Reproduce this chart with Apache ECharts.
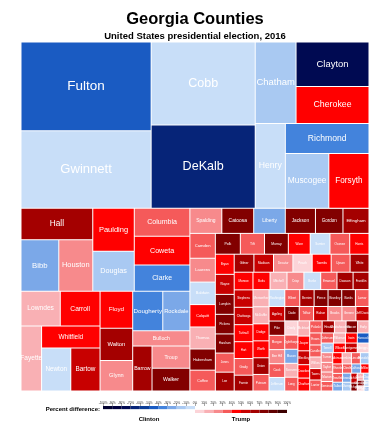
<!DOCTYPE html>
<html><head><meta charset="utf-8">
<script src="https://cdn.jsdelivr.net/npm/echarts@6/dist/echarts.min.js"></script>
<style>html,body{margin:0;padding:0;background:#fff}#c{width:390px;height:430px}</style>
</head><body><div id="c"></div>
<script>
// ---- data: 2010 population (cell size) and 2016 percent difference (Trump - Clinton) ----
const counties = ['Appling','Atkinson','Bacon','Baker','Baldwin','Banks','Barrow','Bartow','Ben Hill','Berrien',
'Bibb','Bleckley','Brantley','Brooks','Bryan','Bulloch','Burke','Butts','Calhoun','Camden',
'Candler','Carroll','Catoosa','Charlton','Chatham','Chattahoochee','Chattooga','Cherokee','Clarke','Clay',
'Clayton','Clinch','Cobb','Coffee','Colquitt','Columbia','Cook','Coweta','Crawford','Crisp',
'Dade','Dawson','Decatur','DeKalb','Dodge','Dooly','Dougherty','Douglas','Early','Echols',
'Effingham','Elbert','Emanuel','Evans','Fannin','Fayette','Floyd','Forsyth','Franklin','Fulton',
'Gilmer','Glascock','Glynn','Gordon','Grady','Greene','Gwinnett','Habersham','Hall','Hancock',
'Haralson','Harris','Hart','Heard','Henry','Houston','Irwin','Jackson','Jasper','Jeff Davis',
'Jefferson','Jenkins','Johnson','Jones','Lamar','Lanier','Laurens','Lee','Liberty','Lincoln',
'Long','Lowndes','Lumpkin','Macon','Madison','Marion','McDuffie','McIntosh','Meriwether','Miller',
'Mitchell','Monroe','Montgomery','Morgan','Murray','Muscogee','Newton','Oconee','Oglethorpe','Paulding',
'Peach','Pickens','Pierce','Pike','Polk','Pulaski','Putnam','Quitman','Rabun','Randolph',
'Richmond','Rockdale','Schley','Screven','Seminole','Spalding','Stephens','Stewart','Sumter','Talbot',
'Taliaferro','Tattnall','Taylor','Telfair','Terrell','Thomas','Tift','Toombs','Towns','Treutlen',
'Troup','Turner','Twiggs','Union','Upson','Walker','Walton','Ware','Warren','Washington',
'Wayne','Webster','Wheeler','White','Whitfield','Wilcox','Wilkes','Wilkinson','Worth'];
const population = [18236,8375,11096,3451,45720,18395,69367,100157,17634,19286,
155547,13063,18411,16243,30233,70217,23316,23655,6694,50513,
10998,110527,63942,12171,265128,11267,26015,214346,116714,3183,
259424,6798,688078,42356,45498,124053,17212,127317,12630,23439,
16633,22330,27842,691893,21796,14918,94565,132403,11008,4034,
52250,20166,22598,11000,23682,106567,96317,175511,22084,920581,
28292,3082,79626,55186,25011,15994,805321,43041,179684,9429,
28780,32024,25213,11834,203922,139900,9538,60485,13900,15068,
16930,8340,9980,28669,18317,10078,48434,28298,63453,7996,
14464,109233,29966,14740,28120,8742,21875,14333,21992,6125,
23498,26424,9123,17868,39628,189885,99958,32808,14899,142324,
27695,29431,18758,17869,41475,12010,21218,2513,16276,7719,
200549,85215,5010,14593,8729,64073,26175,6058,32819,6865,
1717,25520,8906,16500,9315,44720,40118,27223,10471,6885,
67044,8930,9023,21356,27153,68756,83768,36312,5834,21187,
30099,2799,7421,27144,102599,9255,10593,9563,21679];
const pctDiff = [56,45,70,13,-3,77,62,58,28,63,
-25,50,79,23,44,28,-2,42,-26,33,
38,44,75,45,-15,10,58,45,-35,-14,
-75,38,-5,36,46,33,36,42,41,22,
70,68,20,-65,43,6,-38,-15,10,74,
65,30,32,33,62,17,41,45,68,-45,
63,70,24,75,30,27,-5,72,62,-50,
72,44,46,65,-5,25,45,75,40,59,
-9,17,37,33,37,36,25,62,-27,33,
34,14,72,-22,56,20,12,17,17,46,
12,41,50,35,72,-15,-3,38,35,45,
5,72,72,70,72,36,32,-4,55,-12,
-35,-25,51,14,34,26,55,-24,-5,-25,
-23,49,26,30,-18,19,36,44,58,37,
24,22,3,62,32,78,62,40,-18,-3,
57,8,37,66,41,47,14,11,43];

// grouping of the treemap (hierarchy only)
const topBlock = [['Fulton','Gwinnett'],['Cobb','DeKalb'],
  [['Chatham',['Clayton','Cherokee']],['Henry',['Richmond',['Muscogee','Forsyth']]]]];
const midBlock = [
  [['Hall',['Bibb','Houston']],[['Paulding','Douglas'],[['Columbia','Coweta'],'Clarke']]],
  [[[['Lowndes','Carroll'],['Fayette',['Whitfield',['Newton','Bartow']]]],['Floyd',['Walton','Glynn']]],
   [['Dougherty','Rockdale'],['Bulloch',['Barrow',['Troup','Walker']]]]]
];

// legend scale
const legendBreaks = [-100,-90,-80,-70,-60,-50,-40,-30,-20,-10,0,10,20,30,40,50,60,70,80,90,100];
const binColors = ['#000030','#00003f','#000a52','#062478','#0c3d96','#1a5bc2','#4383dc','#7ba8e8','#a9c9f2','#c8def8',
                   '#fcd4d8','#f9b0b4','#f78a8c','#f55a5a','#ff0000','#c80000','#a40000','#820000','#600000','#3c0000'];

function colorOf(v){ const i = Math.min(19, Math.max(0, Math.floor((v + 100) / 10))); return binColors[i]; }
const idx = {}; counties.forEach((c,i)=>idx[c]=i);
function fontFor(p){ return Math.max(3, Math.min(14, 3.2*Math.log(p/1e4) - 1)); }

const used = new Set();
(function mark(n){ if (typeof n === 'string') used.add(n); else n.forEach(mark); })([topBlock, midBlock]);
const rest = counties.filter(c=>!used.has(c)).sort((a,b)=>population[idx[b]]-population[idx[a]]);

function build(n){
  if (typeof n === 'string'){
    const i = idx[n];
    return {name:n, value:population[i], pct:pctDiff[i],
      itemStyle:{color:colorOf(pctDiff[i]), borderColor:'rgba(255,255,255,0.75)', borderWidth:0.5},
      label:{fontSize:fontFor(population[i])}};
  }
  return {name:'', children:n.map(build)};
}

const chart = echarts.init(document.getElementById('c'), null, {renderer:'canvas'});
const legendSeries = [];
for (let k = 0; k < 20; k++){
  const lo = legendBreaks[k], hi = legendBreaks[k+1];
  const neg = hi <= 0;
  legendSeries.push({type:'bar', xAxisIndex:0, yAxisIndex:0, stack: neg ? 'neg' : 'pos',
    barWidth:7, silent:true, itemStyle:{color:binColors[k]},
    data:[neg ? (lo - hi) : (hi - lo)], order: neg ? -hi : lo});
}
legendSeries.sort((a,b)=> (a.stack===b.stack ? a.order-b.order : 0));

chart.setOption({
  animation:false,
  title:{text:'Georgia Counties', subtext:'United States presidential election, 2016', left:'center', top:6, itemGap:3,
    textStyle:{fontSize:16.5, fontWeight:'bold', color:'#000', fontFamily:'Liberation Sans'},
    subtextStyle:{fontSize:9.5, fontWeight:'bold', color:'#000', fontFamily:'Liberation Sans'}},
  grid:{left:103, top:406, width:184, height:7},
  xAxis:{type:'value', min:-100, max:100, interval:10, position:'top',
    axisLine:{show:false}, splitLine:{show:false},
    axisTick:{show:true, length:3, lineStyle:{color:'#555', width:0.5}},
    axisLabel:{fontSize:3, color:'#333', margin:1.5, formatter:v=>v+'%'}},
  yAxis:{type:'category', data:['pd'], show:false},
  graphic:[
    {type:'text', x:100, y:409.5, style:{text:'Percent difference:', textAlign:'right', textVerticalAlign:'middle', font:'bold 6px "Liberation Sans"', fill:'#000'}},
    {type:'text', x:149, y:419, style:{text:'Clinton', textAlign:'center', textVerticalAlign:'middle', font:'bold 6px "Liberation Sans"', fill:'#000'}},
    {type:'text', x:241, y:419, style:{text:'Trump', textAlign:'center', textVerticalAlign:'middle', font:'bold 6px "Liberation Sans"', fill:'#000'}}
  ],
  series:[{
    type:'treemap', left:21, top:42, width:348, height:349,
    roam:false, nodeClick:false, silent:true, sort:false, squareRatio:1, visibleMin:0,
    breadcrumb:{show:false},
    itemStyle:{borderWidth:0, gapWidth:0},
    upperLabel:{show:false},
    label:{show:true, position:'inside', color:'#fff', padding:0, fontFamily:'Liberation Sans', overflow:'none'},
    data:[build(topBlock), build([midBlock, rest])]
  }].concat(legendSeries)
});
</script></body></html>
